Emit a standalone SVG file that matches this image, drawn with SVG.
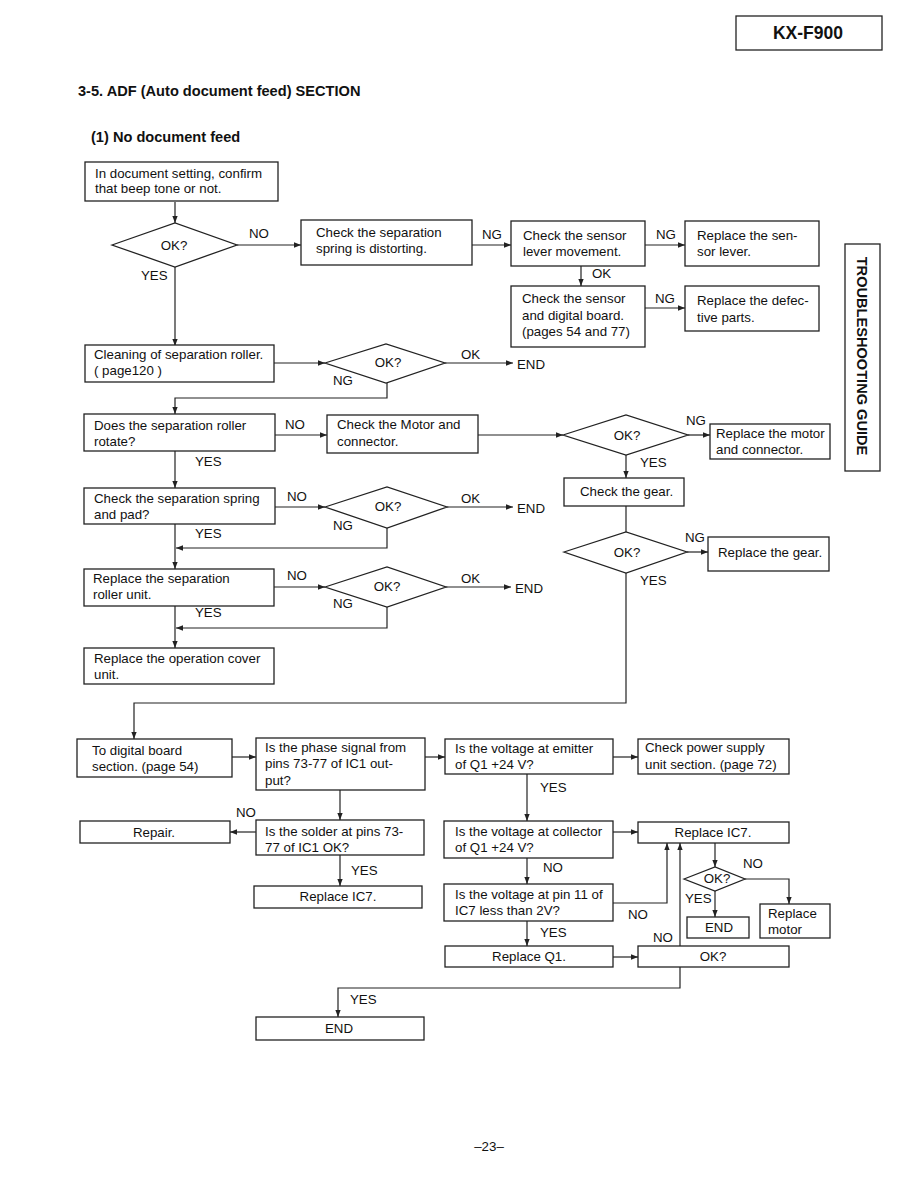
<svg xmlns="http://www.w3.org/2000/svg" width="918" height="1188" viewBox="0 0 918 1188">
<defs>
<style>
.b{fill:#fff;stroke:#222;stroke-width:1.3}
.t{font-family:"Liberation Sans",Arial,sans-serif;font-size:13.3px;fill:#111}
.c{text-anchor:middle}
.h{font-family:"Liberation Sans",Arial,sans-serif;font-weight:bold;fill:#111}
.l{fill:none;stroke:#222;stroke-width:1.2}
</style>
<marker id="a" viewBox="0 0 10 10" refX="10" refY="5" markerWidth="7" markerHeight="7" markerUnits="userSpaceOnUse" orient="auto"><path d="M0,1.2 L10,5 L0,8.8 z" fill="#222"/></marker>
</defs>
<rect width="918" height="1188" fill="#fff"/>

<g id="header">
<rect class="b" x="736" y="16" width="146" height="34"/>
<text class="h c" x="808" y="39" font-size="17.5">KX-F900</text>
<text class="h" x="78" y="96" font-size="14.6">3-5. ADF (Auto document feed) SECTION</text>
<text class="h" x="91" y="142" font-size="14.6">(1) No document feed</text>
</g>
<g id="side-tab">
<rect class="b" x="845" y="244" width="35" height="227"/>
<text class="h c" font-size="14.6" transform="translate(857,356) rotate(90)">TROUBLESHOOTING GUIDE</text>
</g>

<g id="connectors">
<path class="l" marker-end="url(#a)" d="M175,202 V223"/>
<path class="l" marker-end="url(#a)" d="M237,245 H301"/>
<path class="l" marker-end="url(#a)" d="M472,245 H511"/>
<path class="l" marker-end="url(#a)" d="M645,245 H685"/>
<path class="l" marker-end="url(#a)" d="M581,266 V286"/>
<path class="l" marker-end="url(#a)" d="M645,308 H685"/>
<path class="l" marker-end="url(#a)" d="M175,267 V346"/>
<path class="l" marker-end="url(#a)" d="M274,363 H325"/>
<path class="l" marker-end="url(#a)" d="M445,363 H513"/>
<path class="l" marker-end="url(#a)" d="M387,383 V398 H175 V414"/>
<path class="l" marker-end="url(#a)" d="M175,451 V488"/>
<path class="l" marker-end="url(#a)" d="M275,435 H327"/>
<path class="l" marker-end="url(#a)" d="M478,435 H563"/>
<path class="l" marker-end="url(#a)" d="M688,435 H710"/>
<path class="l" marker-end="url(#a)" d="M626,455 V478"/>
<path class="l" d="M626,506 V532"/>
<path class="l" marker-end="url(#a)" d="M687,552 H708"/>
<path class="l" marker-end="url(#a)" d="M626,573 V703 H134 V739"/>
<path class="l" marker-end="url(#a)" d="M275,507 H325"/>
<path class="l" marker-end="url(#a)" d="M447,507 H513"/>
<path class="l" marker-end="url(#a)" d="M387,528 V548 H176"/>
<path class="l" marker-end="url(#a)" d="M175,524 V569"/>
<path class="l" marker-end="url(#a)" d="M274,587 H325"/>
<path class="l" marker-end="url(#a)" d="M446,587 H511"/>
<path class="l" marker-end="url(#a)" d="M387,607 V628 H176"/>
<path class="l" marker-end="url(#a)" d="M175,606 V648"/>
<path class="l" marker-end="url(#a)" d="M232,757 H256"/>
<path class="l" marker-end="url(#a)" d="M425,757 H445"/>
<path class="l" marker-end="url(#a)" d="M340,790 V820"/>
<path class="l" marker-end="url(#a)" d="M256,832 H230"/>
<path class="l" marker-end="url(#a)" d="M340,855 V886"/>
<path class="l" marker-end="url(#a)" d="M613,757 H638"/>
<path class="l" marker-end="url(#a)" d="M527,774 V821"/>
<path class="l" marker-end="url(#a)" d="M613,832 H638"/>
<path class="l" marker-end="url(#a)" d="M527,858 V884"/>
<path class="l" marker-end="url(#a)" d="M613,903 H667 V843"/>
<path class="l" marker-end="url(#a)" d="M527,921 V946"/>
<path class="l" marker-end="url(#a)" d="M613,957 H638"/>
<path class="l" marker-end="url(#a)" d="M680,946 V843"/>
<path class="l" marker-end="url(#a)" d="M680,967 V988 H338 V1017"/>
<path class="l" marker-end="url(#a)" d="M715,843 V867"/>
<path class="l" marker-end="url(#a)" d="M745,879 H789 V904"/>
<path class="l" marker-end="url(#a)" d="M715,891 V917"/>
</g>

<g id="labels" class="t">
<text x="249" y="238">NO</text>
<text x="141" y="280">YES</text>
<text x="482" y="239">NG</text>
<text x="656" y="239">NG</text>
<text x="592" y="278">OK</text>
<text x="655" y="303">NG</text>
<text x="461" y="359">OK</text>
<text x="517" y="369">END</text>
<text x="333" y="385">NG</text>
<text x="285" y="429">NO</text>
<text x="195" y="466">YES</text>
<text x="686" y="425">NG</text>
<text x="640" y="467">YES</text>
<text x="287" y="501">NO</text>
<text x="461" y="503">OK</text>
<text x="517" y="513">END</text>
<text x="333" y="530">NG</text>
<text x="195" y="538">YES</text>
<text x="685" y="542">NG</text>
<text x="640" y="585">YES</text>
<text x="287" y="580">NO</text>
<text x="461" y="583">OK</text>
<text x="515" y="593">END</text>
<text x="333" y="608">NG</text>
<text x="195" y="617">YES</text>
<text x="236" y="817">NO</text>
<text x="351" y="875">YES</text>
<text x="540" y="792">YES</text>
<text x="543" y="872">NO</text>
<text x="628" y="919">NO</text>
<text x="540" y="937">YES</text>
<text x="653" y="942">NO</text>
<text x="743" y="868">NO</text>
<text x="685" y="903">YES</text>
<text x="350" y="1004">YES</text>
</g>

<g id="n1"><rect class="b" x="85" y="162" width="193" height="39"/><text class="t" x="95"><tspan x="95" y="178">In document setting, confirm</tspan><tspan x="95" y="193">that beep tone or not.</tspan></text></g>
<g id="d1"><polygon class="b" points="112,245 175,223 237,245 175,267"/><text class="t c" x="174" y="250">OK?</text></g>
<g id="n2"><rect class="b" x="301" y="220" width="171" height="45"/><text class="t"><tspan x="316" y="237">Check the separation</tspan><tspan x="316" y="253">spring is distorting.</tspan></text></g>
<g id="n3"><rect class="b" x="511" y="221" width="134" height="45"/><text class="t"><tspan x="523" y="240">Check the sensor</tspan><tspan x="523" y="256">lever movement.</tspan></text></g>
<g id="n4"><rect class="b" x="685" y="221" width="134" height="45"/><text class="t"><tspan x="697" y="240">Replace the sen-</tspan><tspan x="697" y="256">sor lever.</tspan></text></g>
<g id="n5"><rect class="b" x="511" y="286" width="134" height="61"/><text class="t"><tspan x="522" y="303">Check the sensor</tspan><tspan x="522" y="320">and digital board.</tspan><tspan x="522" y="336">(pages 54 and 77)</tspan></text></g>
<g id="n6"><rect class="b" x="685" y="286" width="134" height="45"/><text class="t"><tspan x="697" y="305">Replace the defec-</tspan><tspan x="697" y="322">tive parts.</tspan></text></g>
<g id="n7"><rect class="b" x="85" y="345" width="189" height="37"/><text class="t"><tspan x="94" y="359">Cleaning of separation roller.</tspan><tspan x="94" y="375">( page120 )</tspan></text></g>
<g id="d2"><polygon class="b" points="325,363 386,344 445,363 386,383"/><text class="t c" x="388" y="367">OK?</text></g>
<g id="n8"><rect class="b" x="84" y="414" width="191" height="37"/><text class="t"><tspan x="94" y="430">Does the separation roller</tspan><tspan x="94" y="446">rotate?</tspan></text></g>
<g id="n9"><rect class="b" x="327" y="415" width="151" height="38"/><text class="t"><tspan x="337" y="429">Check the Motor and</tspan><tspan x="337" y="446">connector.</tspan></text></g>
<g id="d3"><polygon class="b" points="563,435 626,415 688,435 626,455"/><text class="t c" x="627" y="440">OK?</text></g>
<g id="n10"><rect class="b" x="710" y="424" width="120" height="35"/><text class="t"><tspan x="716" y="438">Replace the motor</tspan><tspan x="716" y="454">and connector.</tspan></text></g>
<g id="n11"><rect class="b" x="564" y="478" width="120" height="28"/><text class="t" x="580" y="496">Check the gear.</text></g>
<g id="d4"><polygon class="b" points="564,552 626,532 687,552 626,573"/><text class="t c" x="627" y="557">OK?</text></g>
<g id="n12"><rect class="b" x="708" y="537" width="121" height="34"/><text class="t" x="718" y="557">Replace the gear.</text></g>
<g id="n13"><rect class="b" x="84" y="488" width="191" height="36"/><text class="t"><tspan x="94" y="503">Check the separation spring</tspan><tspan x="94" y="519">and pad?</tspan></text></g>
<g id="d5"><polygon class="b" points="325,507 387,487 447,507 387,528"/><text class="t c" x="388" y="511">OK?</text></g>
<g id="n14"><rect class="b" x="84" y="569" width="190" height="37"/><text class="t"><tspan x="93" y="583">Replace the separation</tspan><tspan x="93" y="599">roller unit.</tspan></text></g>
<g id="d6"><polygon class="b" points="325,587 387,567 446,587 387,607"/><text class="t c" x="387" y="591">OK?</text></g>
<g id="n15"><rect class="b" x="84" y="648" width="190" height="36"/><text class="t"><tspan x="94" y="663">Replace the operation cover</tspan><tspan x="94" y="679">unit.</tspan></text></g>

<g id="n16"><rect class="b" x="77" y="739" width="155" height="38"/><text class="t"><tspan x="92" y="755">To digital board</tspan><tspan x="92" y="771">section. (page 54)</tspan></text></g>
<g id="n17"><rect class="b" x="256" y="738" width="169" height="52"/><text class="t"><tspan x="265" y="752">Is the phase signal from</tspan><tspan x="265" y="768">pins 73-77 of IC1 out-</tspan><tspan x="265" y="785">put?</tspan></text></g>
<g id="n18"><rect class="b" x="256" y="820" width="168" height="35"/><text class="t"><tspan x="265" y="836">Is the solder at pins 73-</tspan><tspan x="265" y="852">77 of IC1 OK?</tspan></text></g>
<g id="n19"><rect class="b" x="80" y="821" width="150" height="22"/><text class="t c" x="154" y="837">Repair.</text></g>
<g id="n20"><rect class="b" x="254" y="886" width="168" height="22"/><text class="t c" x="338" y="901">Replace IC7.</text></g>
<g id="n21"><rect class="b" x="445" y="739" width="168" height="35"/><text class="t"><tspan x="455" y="753">Is the voltage at emitter</tspan><tspan x="455" y="769">of Q1 +24 V?</tspan></text></g>
<g id="n22"><rect class="b" x="638" y="739" width="151" height="35"/><text class="t"><tspan x="645" y="752">Check power supply</tspan><tspan x="645" y="769">unit section. (page 72)</tspan></text></g>
<g id="n23"><rect class="b" x="444" y="821" width="169" height="37"/><text class="t"><tspan x="455" y="836">Is the voltage at collector</tspan><tspan x="455" y="852">of Q1 +24 V?</tspan></text></g>
<g id="n24"><rect class="b" x="638" y="822" width="151" height="21"/><text class="t c" x="713" y="837">Replace IC7.</text></g>
<g id="n25"><rect class="b" x="444" y="884" width="169" height="37"/><text class="t"><tspan x="455" y="899">Is the voltage at pin 11 of</tspan><tspan x="455" y="915">IC7 less than 2V?</tspan></text></g>
<g id="n26"><rect class="b" x="445" y="946" width="168" height="21"/><text class="t c" x="529" y="961">Replace Q1.</text></g>
<g id="n27"><rect class="b" x="638" y="946" width="151" height="21"/><text class="t c" x="713" y="961">OK?</text></g>
<g id="d7"><polygon class="b" points="684,879 715,867 745,879 715,891"/><text class="t c" x="717" y="883">OK?</text></g>
<g id="n28"><rect class="b" x="687" y="917" width="62" height="21"/><text class="t c" x="719" y="932">END</text></g>
<g id="n29"><rect class="b" x="760" y="904" width="70" height="34"/><text class="t"><tspan x="768" y="918">Replace</tspan><tspan x="768" y="934">motor</tspan></text></g>
<g id="n30"><rect class="b" x="256" y="1017" width="168" height="23"/><text class="t c" x="339" y="1033">END</text></g>

<text class="t c" x="489" y="1151" font-size="15">–23–</text>
</svg>
